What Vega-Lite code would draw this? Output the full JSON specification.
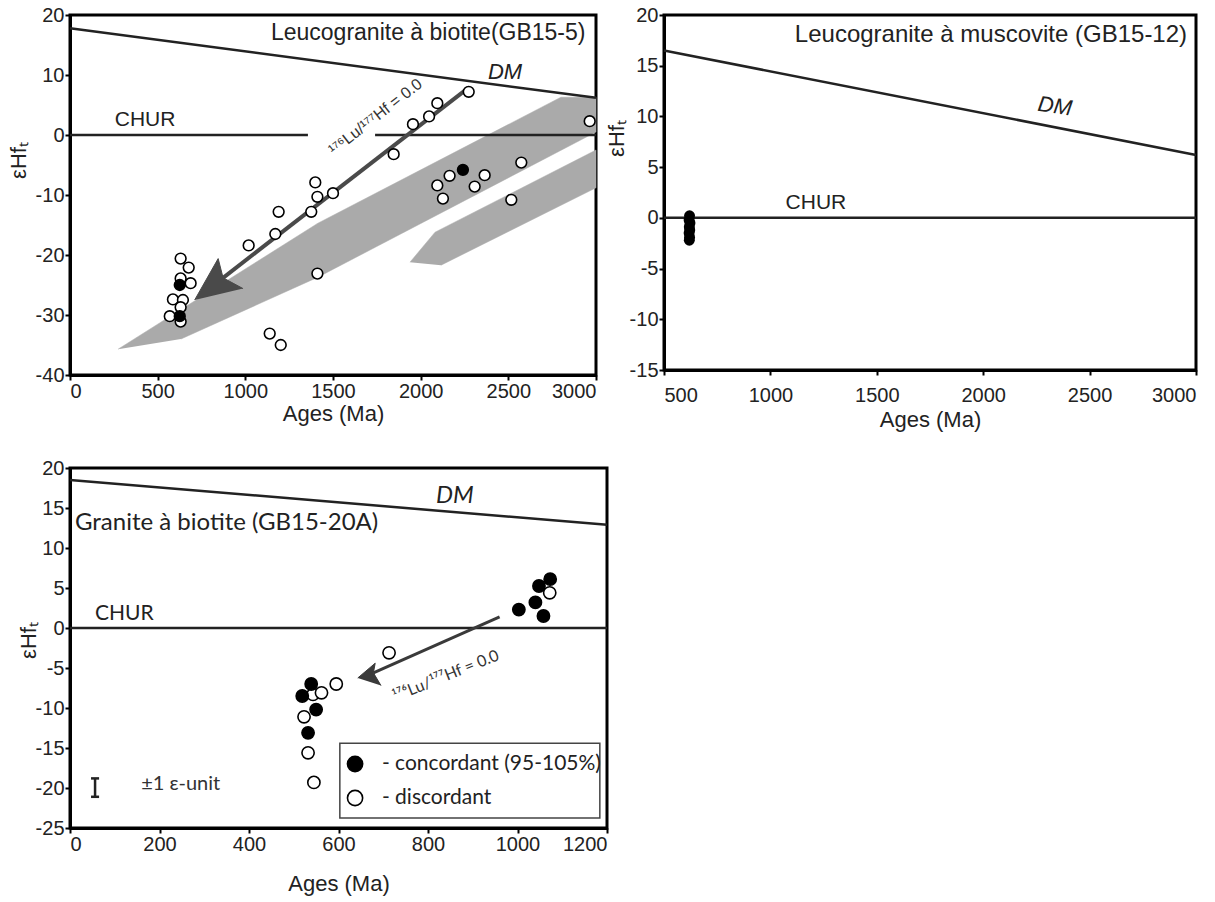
{
  "$schema": "https://vega.github.io/schema/vega-lite/v6.json",
  "background": "white",
  "padding": {"left": 5, "top": 3, "right": 5, "bottom": 5},
  "config": {
    "view": {"stroke": "black", "strokeWidth": 3},
    "font": "Liberation Sans, Arial",
    "axis": {
      "labelFont": "Liberation Sans, Arial",
      "labelFontSize": 20,
      "labelColor": "#222",
      "titleFont": "Liberation Sans, Arial",
      "titleFontSize": 22,
      "titleFontWeight": "normal",
      "titleColor": "#222",
      "domainColor": "black",
      "domainWidth": 3,
      "tickColor": "black",
      "tickWidth": 2,
      "tickSize": 5,
      "grid": false,
      "labelPadding": 1,
      "labelExpr": "'' + datum.value"
    }
  },
  "datasets": {
    "p1bands": [
      {"band": "A", "o": 1, "x": 274, "y": -35.7},
      {"band": "A", "o": 2, "x": 1414, "y": -14.7},
      {"band": "A", "o": 3, "x": 2800, "y": 6.3},
      {"band": "A", "o": 4, "x": 3000, "y": 6.3},
      {"band": "A", "o": 5, "x": 3000, "y": 0.5},
      {"band": "A", "o": 6, "x": 1414, "y": -23.7},
      {"band": "A", "o": 7, "x": 633, "y": -34.0},
      {"band": "B", "o": 1, "x": 1939, "y": -21.2},
      {"band": "B", "o": 2, "x": 2082, "y": -16.2},
      {"band": "B", "o": 3, "x": 3000, "y": -2.5},
      {"band": "B", "o": 4, "x": 3000, "y": -8.8},
      {"band": "B", "o": 5, "x": 2116, "y": -21.7}
    ],
    "p1dm": [{"x": 0, "y": 17.8}, {"x": 3000, "y": 6.2}],
    "p1chur": [{"x": 0, "x2": 1357, "y": 0}, {"x": 1740, "x2": 3000, "y": 0}],
    "p1arrow": [{"x": 2270, "y": 7.8}, {"x": 873, "y": -23.8}],
    "p1head": [
      {"o": 1, "x": 711, "y": -27.5},
      {"o": 2, "x": 845, "y": -20.6},
      {"o": 3, "x": 873, "y": -23.8},
      {"o": 4, "x": 987, "y": -25.6}
    ],
    "p1pts": [
      {"x": 2274, "y": 7.2, "t": "d"},
      {"x": 2095, "y": 5.3, "t": "d"},
      {"x": 2048, "y": 3.1, "t": "d"},
      {"x": 1956, "y": 1.8, "t": "d"},
      {"x": 1846, "y": -3.2, "t": "d"},
      {"x": 2964, "y": 2.3, "t": "d"},
      {"x": 2165, "y": -6.8, "t": "d"},
      {"x": 2095, "y": -8.4, "t": "d"},
      {"x": 2127, "y": -10.6, "t": "d"},
      {"x": 2365, "y": -6.7, "t": "d"},
      {"x": 2308, "y": -8.6, "t": "d"},
      {"x": 2574, "y": -4.6, "t": "d"},
      {"x": 2517, "y": -10.8, "t": "d"},
      {"x": 1399, "y": -7.9, "t": "d"},
      {"x": 1411, "y": -10.3, "t": "d"},
      {"x": 1500, "y": -9.7, "t": "d"},
      {"x": 1376, "y": -12.8, "t": "d"},
      {"x": 1190, "y": -12.8, "t": "d"},
      {"x": 1171, "y": -16.5, "t": "d"},
      {"x": 1019, "y": -18.4, "t": "d"},
      {"x": 1411, "y": -23.1, "t": "d"},
      {"x": 1139, "y": -33.1, "t": "d"},
      {"x": 1202, "y": -35.0, "t": "d"},
      {"x": 631, "y": -20.6, "t": "d"},
      {"x": 677, "y": -22.1, "t": "d"},
      {"x": 631, "y": -23.9, "t": "d"},
      {"x": 688, "y": -24.7, "t": "d"},
      {"x": 587, "y": -27.4, "t": "d"},
      {"x": 644, "y": -27.5, "t": "d"},
      {"x": 631, "y": -28.7, "t": "d"},
      {"x": 569, "y": -30.2, "t": "d"},
      {"x": 631, "y": -31.1, "t": "d"},
      {"x": 2241, "y": -5.8, "t": "c"},
      {"x": 626, "y": -25.0, "t": "c"},
      {"x": 626, "y": -30.2, "t": "c"}
    ],
    "p1title": [{"x": 2940, "y": 17, "label": "Leucogranite à biotite(GB15-5)"}],
    "p1churlabel": [{"x": 428, "y": 2.5, "label": "CHUR"}],
    "p1dmlabel": [{"x": 2481, "y": 10.5, "label": "DM"}],
    "p1lu": [{"x": 1742, "y": 3.0, "label": "¹⁷⁶Lu/¹⁷⁷Hf = 0.0"}],
    "p2dm": [{"x": 500, "y": 16.5}, {"x": 3000, "y": 6.2}],
    "p2chur": [{"x": 500, "x2": 3000, "y": 0}],
    "p2pts": [
      {"x": 620, "y": 0.2, "t": "c"},
      {"x": 618, "y": -0.2, "t": "c"},
      {"x": 622, "y": -0.5, "t": "c"},
      {"x": 619, "y": -0.9, "t": "c"},
      {"x": 621, "y": -1.2, "t": "c"},
      {"x": 618, "y": -1.5, "t": "c"},
      {"x": 620, "y": -1.9, "t": "c"},
      {"x": 619, "y": -2.2, "t": "c"}
    ],
    "p2title": [{"x": 2958, "y": 18.0, "label": "Leucogranite à muscovite (GB15-12)"}],
    "p2churlabel": [{"x": 1214, "y": 1.5, "label": "CHUR"}],
    "p2dmlabel": [{"x": 2337, "y": 11.0, "label": "DM"}],
    "p3dm": [{"x": 0, "y": 18.5}, {"x": 1200, "y": 12.9}],
    "p3chur": [{"x": 0, "x2": 1200, "y": 0}],
    "p3arrow": [{"x": 960, "y": 1.4}, {"x": 678, "y": -5.6}],
    "p3head": [
      {"o": 1, "x": 643, "y": -6.25},
      {"o": 2, "x": 682, "y": -4.4},
      {"o": 3, "x": 678, "y": -5.6},
      {"o": 4, "x": 695, "y": -7.2}
    ],
    "p3pts": [
      {"x": 1072, "y": 4.4, "t": "d"},
      {"x": 713, "y": -3.1, "t": "d"},
      {"x": 595, "y": -7.0, "t": "d"},
      {"x": 543, "y": -8.3, "t": "d"},
      {"x": 562, "y": -8.1, "t": "d"},
      {"x": 523, "y": -11.1, "t": "d"},
      {"x": 532, "y": -15.6, "t": "d"},
      {"x": 545, "y": -19.3, "t": "d"},
      {"x": 1073, "y": 6.1, "t": "c"},
      {"x": 1048, "y": 5.25, "t": "c"},
      {"x": 1040, "y": 3.2, "t": "c"},
      {"x": 1003, "y": 2.3, "t": "c"},
      {"x": 1058, "y": 1.5, "t": "c"},
      {"x": 539, "y": -7.0, "t": "c"},
      {"x": 519, "y": -8.5, "t": "c"},
      {"x": 550, "y": -10.2, "t": "c"},
      {"x": 532, "y": -13.1, "t": "c"}
    ],
    "p3box": [{"x": 603, "x2": 1184, "y": -14.4, "y2": -23.75}],
    "p3legpts": [
      {"x": 637, "y": -17.0, "t": "c"},
      {"x": 637, "y": -21.25, "t": "d"}
    ],
    "p3legtext": [
      {"x": 697, "y": -17.0, "label": "- concordant (95-105%)"},
      {"x": 697, "y": -21.25, "label": "- discordant"}
    ],
    "p3title": [{"x": 11, "y": 13.1, "label": "Granite à biotite (GB15-20A)"}],
    "p3churlabel": [{"x": 56, "y": 1.75, "label": "CHUR"}],
    "p3unit": [{"x": 159, "y": -19.5, "label": "±1 ε-unit"}],
    "p3dmlabel": [{"x": 860, "y": 16.5, "label": "DM"}],
    "p3lu": [{"x": 840, "y": -6.0, "label": "¹⁷⁶Lu/¹⁷⁷Hf = 0.0"}],
    "p3err": [{"x": 56, "y": -18.8, "y2": -21.1}],
    "p3caps": [{"x": 47, "x2": 65, "y": -18.8}, {"x": 47, "x2": 65, "y": -21.1}]
  },
  "spacing": 24,
  "vconcat": [
    {
      "spacing": 0,
      "hconcat": [
        {
          "width": 526,
          "height": 360,
          "encoding": {
            "x": {"field": "x", "type": "quantitative", "scale": {"domain": [0, 3000], "nice": false},
                  "axis": {"values": [0, 500, 1000, 1500, 2000, 2500, 3000], "title": "Ages (Ma)", "titlePadding": 2}},
            "y": {"field": "y", "type": "quantitative", "scale": {"domain": [-40, 20], "nice": false},
                  "axis": {"values": [-40, -30, -20, -10, 0, 10, 20], "title": "εHfₜ", "titleX": -40, "titleY": 145}}
          },
          "layer": [
            {"data": {"name": "p1bands"}, "mark": {"type": "line", "fill": "#aaaaaa", "stroke": "#aaaaaa", "strokeWidth": 0.5},
             "encoding": {"detail": {"field": "band"}, "order": {"field": "o", "type": "quantitative"}}},
            {"data": {"name": "p1chur"}, "mark": {"type": "rule", "color": "#222", "strokeWidth": 2.5},
             "encoding": {"x2": {"field": "x2"}}},
            {"data": {"name": "p1dm"}, "mark": {"type": "line", "color": "#222", "strokeWidth": 2.5}, "encoding": {}},
            {"data": {"name": "p1arrow"}, "mark": {"type": "line", "color": "#4a4a4a", "strokeWidth": 4}, "encoding": {}},
            {"data": {"name": "p1head"}, "mark": {"type": "line", "fill": "#4a4a4a", "stroke": "#4a4a4a", "strokeWidth": 1},
             "encoding": {"order": {"field": "o", "type": "quantitative"}}},
            {"data": {"name": "p1pts"}, "mark": {"type": "point", "filled": true, "size": 115, "stroke": "black", "strokeWidth": 1.6, "opacity": 1},
             "encoding": {"fill": {"field": "t", "type": "nominal", "scale": {"domain": ["c", "d"], "range": ["black", "white"]}, "legend": null}}},
            {"data": {"name": "p1title"}, "mark": {"type": "text", "fontSize": 23, "color": "#222", "align": "right", "baseline": "middle"},
             "encoding": {"text": {"field": "label"}}},
            {"data": {"name": "p1churlabel"}, "mark": {"type": "text", "fontSize": 21, "color": "#222", "align": "center", "baseline": "middle"},
             "encoding": {"text": {"field": "label"}}},
            {"data": {"name": "p1dmlabel"}, "mark": {"type": "text", "fontSize": 22, "fontStyle": "italic", "color": "#222", "baseline": "middle"},
             "encoding": {"text": {"field": "label"}}},
            {"data": {"name": "p1lu"}, "mark": {"type": "text", "fontSize": 16, "angle": 322, "color": "#333", "baseline": "middle"},
             "encoding": {"text": {"field": "label"}}}
          ]
        },
        {
          "width": 532,
          "height": 355,
          "encoding": {
            "x": {"field": "x", "type": "quantitative", "scale": {"domain": [500, 3000], "nice": false},
                  "axis": {"values": [500, 1000, 1500, 2000, 2500, 3000], "title": "Ages (Ma)", "titlePadding": 4, "labelPadding": 10}},
            "y": {"field": "y", "type": "quantitative", "scale": {"domain": [-15, 20], "nice": false},
                  "axis": {"values": [-15, -10, -5, 0, 5, 10, 15, 20], "title": "εHfₜ", "titleX": -36, "titleY": 123}}
          },
          "layer": [
            {"data": {"name": "p2chur"}, "mark": {"type": "rule", "color": "#222", "strokeWidth": 2.5},
             "encoding": {"x2": {"field": "x2"}}},
            {"data": {"name": "p2dm"}, "mark": {"type": "line", "color": "#222", "strokeWidth": 2.5}, "encoding": {}},
            {"data": {"name": "p2pts"}, "mark": {"type": "point", "filled": true, "size": 120, "color": "black", "opacity": 1}, "encoding": {}},
            {"data": {"name": "p2title"}, "mark": {"type": "text", "fontSize": 24, "color": "#222", "align": "right", "baseline": "middle"},
             "encoding": {"text": {"field": "label"}}},
            {"data": {"name": "p2churlabel"}, "mark": {"type": "text", "fontSize": 21, "color": "#222", "align": "center", "baseline": "middle"},
             "encoding": {"text": {"field": "label"}}},
            {"data": {"name": "p2dmlabel"}, "mark": {"type": "text", "fontSize": 22, "fontStyle": "italic", "color": "#222", "baseline": "middle", "angle": 8},
             "encoding": {"text": {"field": "label"}}}
          ]
        }
      ]
    },
    {
      "width": 537,
      "height": 360,
      "encoding": {
        "x": {"field": "x", "type": "quantitative", "scale": {"domain": [0, 1200], "nice": false},
              "axis": {"values": [0, 200, 400, 600, 800, 1000, 1200], "title": "Ages (Ma)", "titlePadding": 19}},
        "y": {"field": "y", "type": "quantitative", "scale": {"domain": [-25, 20], "nice": false},
              "axis": {"values": [-25, -20, -15, -10, -5, 0, 5, 10, 15, 20], "title": "εHfₜ", "titleX": -30, "titleY": 172}}
      },
      "layer": [
        {"data": {"name": "p3chur"}, "mark": {"type": "rule", "color": "#222", "strokeWidth": 2.5},
         "encoding": {"x2": {"field": "x2"}}},
        {"data": {"name": "p3dm"}, "mark": {"type": "line", "color": "#222", "strokeWidth": 2.5}, "encoding": {}},
        {"data": {"name": "p3arrow"}, "mark": {"type": "line", "color": "#3a3a3a", "strokeWidth": 3}, "encoding": {}},
        {"data": {"name": "p3head"}, "mark": {"type": "line", "fill": "#3a3a3a", "stroke": "#3a3a3a", "strokeWidth": 1},
         "encoding": {"order": {"field": "o", "type": "quantitative"}}},
        {"data": {"name": "p3box"}, "mark": {"type": "rect", "fill": "white", "stroke": "#444", "strokeWidth": 1.5},
         "encoding": {"x2": {"field": "x2"}, "y2": {"field": "y2"}}},
        {"data": {"name": "p3pts"}, "mark": {"type": "point", "filled": true, "size": 150, "stroke": "black", "strokeWidth": 1.6, "opacity": 1},
         "encoding": {"fill": {"field": "t", "type": "nominal", "scale": {"domain": ["c", "d"], "range": ["black", "white"]}, "legend": null}}},
        {"data": {"name": "p3legpts"}, "mark": {"type": "point", "filled": true, "size": 230, "stroke": "black", "strokeWidth": 1.6, "opacity": 1},
         "encoding": {"fill": {"field": "t", "type": "nominal", "scale": {"domain": ["c", "d"], "range": ["black", "white"]}, "legend": null}}},
        {"data": {"name": "p3err"}, "mark": {"type": "rule", "color": "#222", "strokeWidth": 2.5},
         "encoding": {"y2": {"field": "y2"}}},
        {"data": {"name": "p3caps"}, "mark": {"type": "rule", "color": "#222", "strokeWidth": 2.5},
         "encoding": {"x2": {"field": "x2"}}},
        {"data": {"name": "p3legtext"}, "mark": {"type": "text", "font": "Lato", "fontSize": 21, "color": "#222", "align": "left", "baseline": "middle"},
         "encoding": {"text": {"field": "label"}}},
        {"data": {"name": "p3title"}, "mark": {"type": "text", "font": "Lato", "fontSize": 24, "color": "#222", "align": "left", "baseline": "middle"},
         "encoding": {"text": {"field": "label"}}},
        {"data": {"name": "p3churlabel"}, "mark": {"type": "text", "font": "Lato", "fontSize": 21, "color": "#222", "align": "left", "baseline": "middle"},
         "encoding": {"text": {"field": "label"}}},
        {"data": {"name": "p3unit"}, "mark": {"type": "text", "font": "Lato", "fontSize": 20, "color": "#333", "align": "left", "baseline": "middle"},
         "encoding": {"text": {"field": "label"}}},
        {"data": {"name": "p3dmlabel"}, "mark": {"type": "text", "font": "Lato", "fontSize": 24, "fontStyle": "italic", "color": "#222", "baseline": "middle"},
         "encoding": {"text": {"field": "label"}}},
        {"data": {"name": "p3lu"}, "mark": {"type": "text", "font": "Lato", "fontSize": 16, "angle": 338, "color": "#333", "baseline": "middle"},
         "encoding": {"text": {"field": "label"}}}
      ]
    }
  ]
}
